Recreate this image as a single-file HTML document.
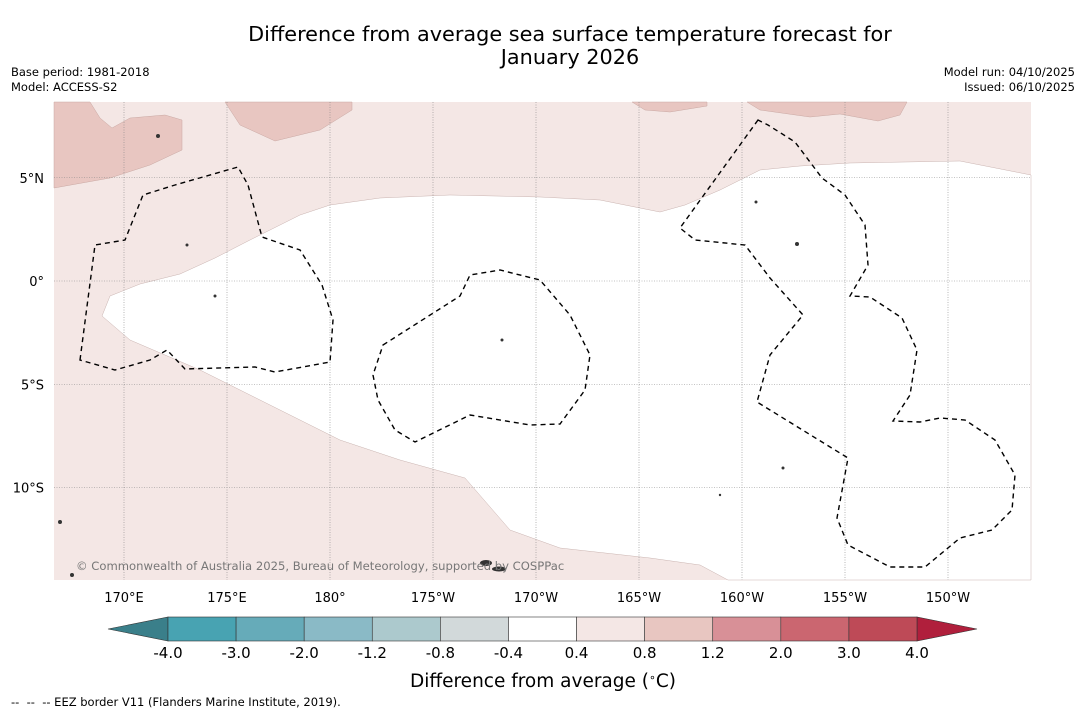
<!DOCTYPE html>
<html><head><meta charset="utf-8">
<style>
body{margin:0;background:#fff;width:1085px;height:713px;overflow:hidden;font-family:"DejaVu Sans","Liberation Sans",sans-serif;}
svg{display:block}
</style></head>
<body>
<svg id="chart" width="1085" height="713" viewBox="0 0 1085 713">
<text x="570" y="41" font-size="20.8" text-anchor="middle" fill="#000">Difference from average sea surface temperature forecast for</text>
<text x="570" y="64" font-size="20.8" text-anchor="middle" fill="#000">January 2026</text>
<text x="11" y="76" font-size="11.5">Base period: 1981-2018</text>
<text x="11" y="91" font-size="11.5">Model: ACCESS-S2</text>
<text x="1075" y="76" font-size="11.5" text-anchor="end">Model run: 04/10/2025</text>
<text x="1075" y="91" font-size="11.5" text-anchor="end">Issued: 06/10/2025</text>

<g>
<rect x="54" y="102" width="977" height="478" fill="#f4e7e5"/>
<path fill="#fff" stroke="#c9b3b0" stroke-width="0.5"
 d="M330,205 L380,198 L450,195 L540,197 L600,200 L640,208 L660,212 L685,205 L720,190 L760,170 L800,166 L850,163 L960,161 L1031,175 L1031,580 L728,580 L700,565 L650,558 L560,548 L510,530 L465,478 L400,460 L340,440 L280,410 L200,370 L130,340 L102,316 L110,296 L140,284 L180,274 L215,258 L250,240 L300,215 Z"/>
<path fill="#e8c6c1" stroke="#c9a8a3" stroke-width="0.5" d="M54,102 L54,188 L110,178 L150,165 L182,150 L182,120 L165,115 L130,118 L112,128 L100,118 L90,102 Z"/>
<path fill="#e8c6c1" stroke="#c9a8a3" stroke-width="0.5" d="M225,102 L240,125 L275,141 L320,130 L352,110 L352,102 Z"/>
<path fill="#e8c6c1" stroke="#c9a8a3" stroke-width="0.5" d="M632,102 L645,110 L670,112 L707,106 L707,102 Z"/>
<path fill="#e8c6c1" stroke="#c9a8a3" stroke-width="0.5" d="M747,102 L760,110 L810,117 L840,114 L878,121 L900,115 L907,102 Z"/>
<g id="grid" stroke="#888" stroke-width="0.6" stroke-dasharray="1,1.5"></g>
<g fill="none" stroke="#000" stroke-width="1.4" stroke-dasharray="5,4">
<path d="M80,360 L95,245 L125,240 L143,195 L175,185 L238,167 L248,185 L262,237 L300,250 L322,285 L333,320 L330,362 L275,372 L255,367 L185,369 L167,350 L150,360 L115,370 Z"/>
<path d="M383,345 L460,296 L470,275 L500,270 L540,280 L570,315 L590,355 L585,390 L560,424 L530,425 L470,415 L415,442 L395,430 L378,400 L373,375 Z"/>
<path d="M758,120 L680,228 L695,240 L745,245 L770,278 L803,315 L770,355 L757,402 L848,458 L837,518 L848,545 L890,567 L925,567 L960,538 L992,530 L1012,510 L1015,475 L995,440 L965,420 L940,418 L920,422 L893,421 L910,395 L917,350 L902,318 L870,297 L850,296 L868,265 L865,225 L845,195 L822,178 L795,142 L768,125 Z"/>
</g>
<g fill="#333">
<ellipse cx="486" cy="563" rx="6" ry="3"/><ellipse cx="499" cy="569" rx="7" ry="2.5"/>
<circle cx="60" cy="522" r="2"/><circle cx="72" cy="575" r="2"/><circle cx="158" cy="136" r="2"/><circle cx="797" cy="244" r="2"/><circle cx="756" cy="202" r="1.5"/>
<circle cx="502" cy="340" r="1.5"/><circle cx="187" cy="245" r="1.5"/><circle cx="215" cy="296" r="1.5"/><circle cx="720" cy="495" r="1.2"/><circle cx="783" cy="468" r="1.5"/>
</g>
<text x="76" y="570" font-size="11.6" fill="#777">© Commonwealth of Australia 2025, Bureau of Meteorology, supported by COSPPac</text>
</g>
<g id="axislabels" font-size="13" fill="#000"></g>
<g id="cbar"></g>
<text x="543" y="687" font-size="18.5" text-anchor="middle">Difference from average (<tspan baseline-shift="super" font-size="11">∘</tspan>C)</text>
<text x="11" y="706" font-size="11.5">-- &nbsp;-- &nbsp;-- EEZ border V11 (Flanders Marine Institute, 2019).</text>
</svg>
<script>
const lonTicks=[170,175,180,-175,-170,-165,-160,-155,-150];
const lonLabels=["170°E","175°E","180°","175°W","170°W","165°W","160°W","155°W","150°W"];
const latTicks=[5,0,-5,-10];
const latLabels=["5°N","0°","5°S","10°S"];
const levels=["-4.0","-3.0","-2.0","-1.2","-0.8","-0.4","0.4","0.8","1.2","2.0","3.0","4.0"];
const binColors=["#48a3b2","#66abb9","#8abac6","#acc9cd","#d2d9da","#ffffff","#f4e7e5","#e8c6c1","#d89097","#cb6670","#be4a57"];
const lowTip="#3a7f8a",highTip="#b01f3c";
const NS="http://www.w3.org/2000/svg";
function lonX(l){const e=l<0?l+360:l;return 124+(e-170)*20.6;}
function latY(v){return 281-v*20.65;}
function mk(tag,attrs,parent){const el=document.createElementNS(NS,tag);for(const k in attrs)el.setAttribute(k,attrs[k]);parent.appendChild(el);return el;}
const grid=document.getElementById('grid'),ax=document.getElementById('axislabels');
lonTicks.forEach((l,i)=>{const x=lonX(l);
 const ln=mk('line',{x1:x,x2:x,y1:102,y2:580},grid);
 
 
 const t=mk('text',{x:x,y:602,'text-anchor':'middle'},ax);t.textContent=lonLabels[i];
 
 });
latTicks.forEach((v,i)=>{const y=latY(v);
 const ln=mk('line',{x1:54,x2:1031,y1:y,y2:y},grid);
 
 
 const t=mk('text',{x:44,y:y+5,'text-anchor':'end'},ax);t.textContent=latLabels[i];
 
 });
const cb=document.getElementById('cbar');
const x0=168,x1=917,y0=617,h=24,w=(x1-x0)/binColors.length;
const lt=mk('polygon',{points:`108,${y0+h/2} ${x0},${y0} ${x0},${y0+h}`,fill:lowTip,stroke:'#333','stroke-width':0.6},cb);


const ht=mk('polygon',{points:`977,${y0+h/2} ${x1},${y0} ${x1},${y0+h}`,fill:highTip,stroke:'#333','stroke-width':0.6},cb);


binColors.forEach((c,i)=>{const r=mk('rect',{x:x0+i*w,y:y0,width:w,height:h,fill:c,stroke:'#333','stroke-width':0.6},cb);
 
 });
levels.forEach((s,i)=>{const t=mk('text',{x:x0+i*w,y:658,'font-size':15,'text-anchor':'middle'},cb);t.textContent=s;
 
 });
</script>
</body></html>
